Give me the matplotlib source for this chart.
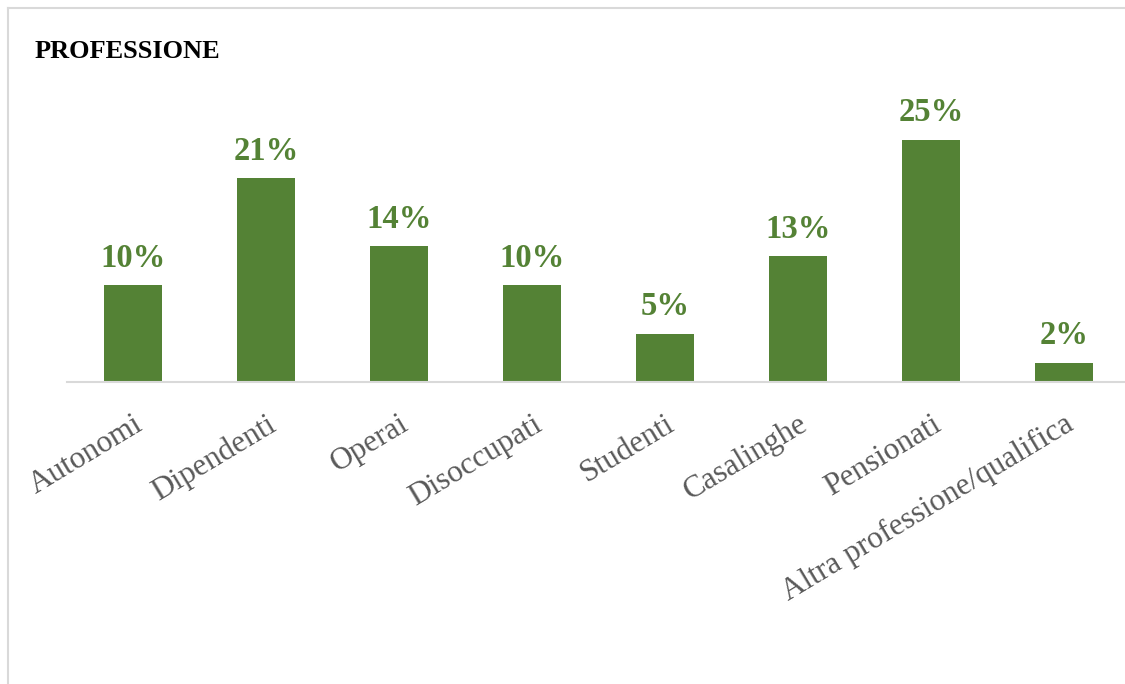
import matplotlib
matplotlib.use("Agg")
import matplotlib.pyplot as plt
from matplotlib.lines import Line2D

# Survey breakdown by profession (percent of respondents)
categories = [
    "Autonomi",
    "Dipendenti",
    "Operai",
    "Disoccupati",
    "Studenti",
    "Casalinghe",
    "Pensionati",
    "Altra professione/qualifica",
]
values = [10, 21, 14, 10, 5, 13, 25, 2]

BAR_COLOR = "#548235"
GRID_GRAY = "#d9d9d9"
TEXT_GRAY = "#595959"


def main():
    plt.rcParams["font.family"] = ["Liberation Serif", "DejaVu Serif"]

    fig = plt.figure(figsize=(11.25, 6.84), dpi=100)
    W, H = 1125, 684

    # Chart frame (only top and left edges fall inside the canvas)
    fig.add_artist(Line2D([8 / W, 8 / W], [0, 1 - 8 / H], transform=fig.transFigure,
                          color=GRID_GRAY, lw=1.5))
    fig.add_artist(Line2D([8 / W, 1], [1 - 8 / H, 1 - 8 / H], transform=fig.transFigure,
                          color=GRID_GRAY, lw=1.5))

    left, right = 66.5 / W, 1130.5 / W
    bottom, top = (H - 382) / H, (H - 91) / H
    ax = fig.add_axes([left, bottom, right - left, top - bottom])

    x = list(range(len(categories)))
    ax.bar(x, values, width=0.436, color=BAR_COLOR, zorder=2)

    for xi, v in zip(x, values):
        ax.annotate(f"{v}%", (xi, v), xytext=(0, 8), textcoords="offset points",
                    ha="center", va="bottom", fontsize=23.5, fontweight="bold",
                    color=BAR_COLOR)

    ax.set_xlim(-0.5, len(categories) - 0.5)
    ax.set_ylim(0, 30)

    for side in ["top", "right", "left"]:
        ax.spines[side].set_visible(False)
    ax.spines["bottom"].set_color(GRID_GRAY)
    ax.spines["bottom"].set_linewidth(1.5)
    ax.set_yticks([])

    ax.set_xticks(x)
    ax.set_xticklabels(categories, rotation=31, ha="right", rotation_mode="anchor",
                       fontsize=22.5, color=TEXT_GRAY)
    ax.tick_params(axis="x", length=0, pad=20)

    fig.text(35 / W, 1 - 58 / H, "PROFESSIONE", fontsize=19, fontweight="bold",
             color="black", ha="left", va="baseline")

    fig.savefig("out.png", dpi=100)


if __name__ == "__main__":
    main()
